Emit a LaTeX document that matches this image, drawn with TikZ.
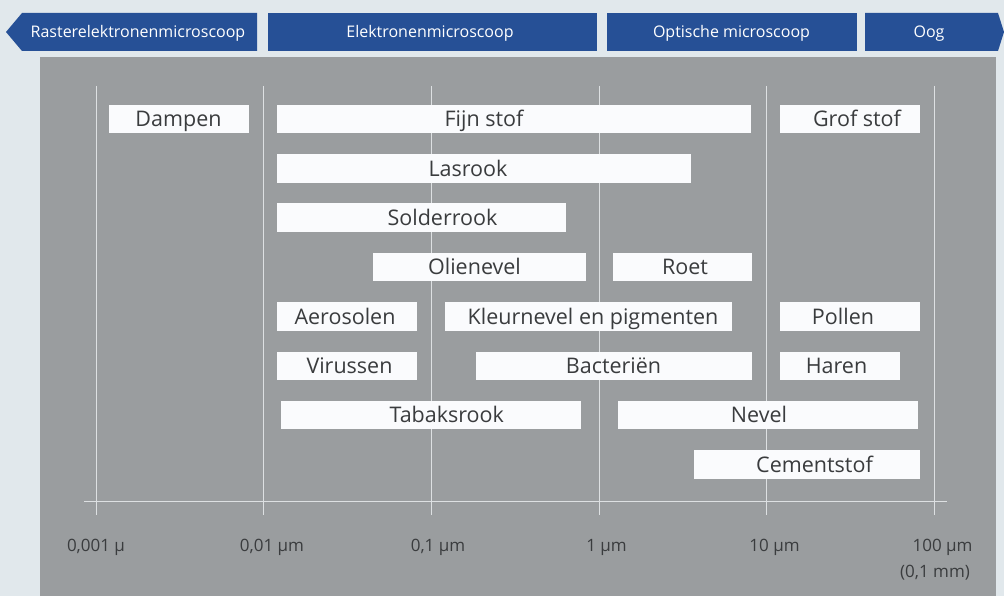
\documentclass[tikz,border=0pt]{standalone}
\usepackage{fontspec}
\setmainfont{Open Sans}
\usepackage{tikz}
\usetikzlibrary{positioning,fit}
\definecolor{pagebg}{HTML}{E1E8EC}
\definecolor{panel}{HTML}{9A9D9F}
\definecolor{barblue}{HTML}{265096}
\definecolor{gridline}{HTML}{DDE0E2}
\definecolor{boxfill}{HTML}{FAFBFD}
\definecolor{ink}{HTML}{3A3C3E}

\begin{document}
\begin{tikzpicture}[
x=1pt,y=-1pt,
font=\normalfont,
bar/.style={fill=barblue},
bartext/.style={text=white,font=\fontsize{16}{19}\selectfont,inner sep=0pt,text height=15pt,text depth=3.6pt},
band/.style={fill=boxfill,inner sep=0pt,draw=none},
bandtext/.style={text=ink,font=\fontsize{21.5}{25}\selectfont,inner sep=0pt,text height=20pt,text depth=4.6pt},
ticktext/.style={text=ink,font=\fontsize{17}{20}\selectfont,inner sep=0pt,text height=16pt,text depth=3.9pt},
grid/.style={draw=gridline,line width=1pt}]
    % Background and panel
    \useasboundingbox (0,0) rectangle (1004,596);
    \fill[pagebg] (0,0) rectangle (1004,596);
    \fill[panel] (40,57) rectangle (996,596);

    % Microscope bars
    \fill[bar] (6,32) -- (22,13) -- (257,13) -- (257,51) -- (22,51) -- cycle;
    \fill[bar] (268,13) rectangle (597,51);
    \fill[bar] (607,13) rectangle (857,51);
    \fill[bar] (865,13) -- (998,13) -- (1004,32) -- (998,51) -- (865,51) -- cycle;
    \node[bartext] (raster) at (138,32) {Rasterelektronenmicroscoop};
    \node[bartext] (elektron) at (430,32) {Elektronenmicroscoop};
    \node[bartext] (optisch) at (731.5,32) {Optische microscoop};
    \node[bartext] (oog) at (929,32) {Oog};

    % Draw axes
    \coordinate (xstart) at (84,501);
    \coordinate (xend) at (947,501);
    \draw[grid] (xstart) -- (xend);
    \draw[grid] (96,86) -- (96,515);
    \draw[grid] (263.7,86) -- (263.7,515);
    \draw[grid] (431.4,86) -- (431.4,515);
    \draw[grid] (599.1,86) -- (599.1,515);
    \draw[grid] (766.8,86) -- (766.8,515);
    \draw[grid] (934.5,86) -- (934.5,515);

    \node[ticktext] (t1) at (96,545) {0,001 µ};
    \node[ticktext] (t2) at (272,545) {0,01 µm};
    \node[ticktext] (t3) at (438,545) {0,1 µm};
    \node[ticktext] (t4) at (606.5,545) {1 µm};
    \node[ticktext] (t5) at (774.5,545) {10 µm};
    \node[ticktext] (t6) at (942.5,545) {100 µm};
    \node[ticktext] (t7) at (935,571) {(0,1 mm)};

    % Particle bands
    \node[band,fit={(109.3,105) (249,133)}] (dampen) {};
    \node[band,fit={(277.3,105) (751,133)}] (fijn) {};
    \node[band,fit={(780.3,105) (920,133)}] (grof) {};
    \node[band,fit={(277.3,154.3) (691,182.7)}] (las) {};
    \node[band,fit={(277.3,203.3) (566,231.7)}] (solder) {};
    \node[band,fit={(372.7,253) (585.7,281)}] (olie) {};
    \node[band,fit={(613,253) (752,281)}] (roet) {};
    \node[band,fit={(277.3,302.3) (416.7,330.7)}] (aero) {};
    \node[band,fit={(445,302.3) (732.3,330.7)}] (kleur) {};
    \node[band,fit={(780.3,302.3) (920,330.7)}] (pollen) {};
    \node[band,fit={(277.3,351.7) (416.7,380)}] (virus) {};
    \node[band,fit={(475.7,351.7) (752.3,380)}] (bacterie) {};
    \node[band,fit={(780.3,351.7) (899.7,380)}] (haren) {};
    \node[band,fit={(281.3,401) (581,429.3)}] (tabak) {};
    \node[band,fit={(618,401) (917.7,429.3)}] (nevel) {};
    \node[band,fit={(694,450.3) (920,478.7)}] (cement) {};

    \node[bandtext] (dampenT) at (178.5,119) {Dampen};
    \node[bandtext] (fijnT) at (484,119) {Fijn stof};
    \node[bandtext] (grofT) at (857,119) {Grof stof};
    \node[bandtext] (lasT) at (468,168.5) {Lasrook};
    \node[bandtext] (solderT) at (442.5,217.5) {Solderrook};
    \node[bandtext] (olieT) at (474.5,267) {Olienevel};
    \node[bandtext] (roetT) at (685,267) {Roet};
    \node[bandtext] (aeroT) at (345,316.5) {Aerosolen};
    \node[bandtext] (kleurT) at (593,316.5) {Kleurnevel en pigmenten};
    \node[bandtext] (pollenT) at (843,316.5) {Pollen};
    \node[bandtext] (virusT) at (349.5,366) {Virussen};
    \node[bandtext] (bacterieT) at (613.5,366) {Bacteriën};
    \node[bandtext] (harenT) at (836.5,366) {Haren};
    \node[bandtext] (tabakT) at (446.8,415) {Tabaksrook};
    \node[bandtext] (nevelT) at (759,415) {Nevel};
    \node[bandtext] (cementT) at (814.5,464.5) {Cementstof};

\end{tikzpicture}
\end{document}
